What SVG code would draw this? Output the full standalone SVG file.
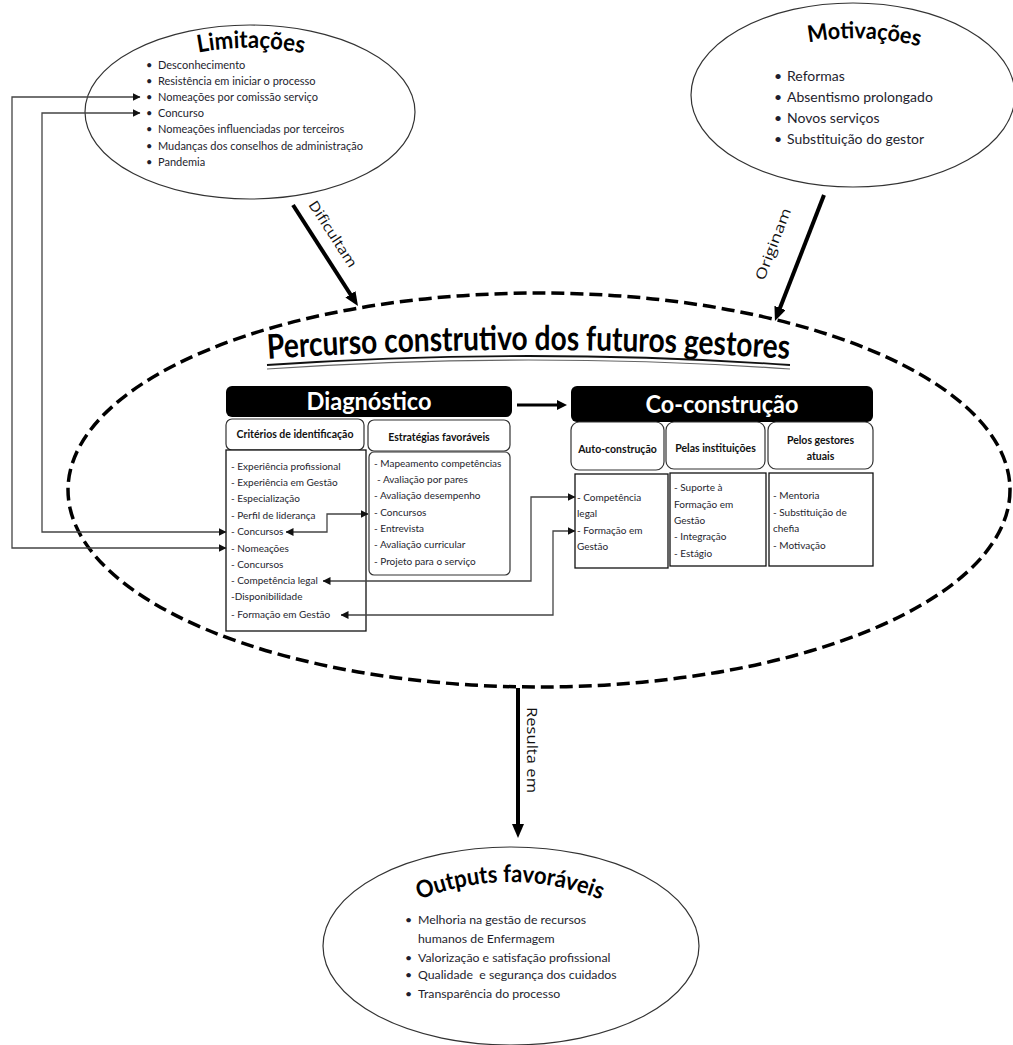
<svg xmlns="http://www.w3.org/2000/svg" width="1013" height="1045" viewBox="0 0 1013 1045">
  <style>
    .oval{fill:#fff;stroke:#333;stroke-width:1.2}
    .frame{fill:none;stroke:#000;stroke-width:3.5;stroke-dasharray:13 6}
    .hdr{fill:#000}
    .hdr-t{font-family:Lato,"Liberation Sans",sans-serif;font-weight:bold;font-size:24px;fill:#fff;text-anchor:middle}
    .sub{fill:#fff;stroke:#333;stroke-width:1.2}
    .sub-t{font-family:Lato,"Liberation Sans",sans-serif;font-weight:bold;font-size:10.5px;fill:#111;text-anchor:middle}
    .box{fill:#fff;stroke:#111;stroke-width:1.3}
    .li{font-family:Lato,"Liberation Sans",sans-serif;font-size:10px;fill:#1e1e2e}
    .li-lim{font-size:11px}
    .li-mot{font-size:14px}
    .li-out{font-size:12.3px}
    .ttl{font-family:Lato,"Liberation Sans",sans-serif;font-weight:bold;fill:#000}
    .lnk{fill:none;stroke:#444;stroke-width:1.3;marker-start:url(#tip);marker-end:url(#tip)}
    .flow{fill:none;stroke:#000;stroke-width:4;marker-end:url(#big)}
    .lbl{font-family:"Open Sans","Liberation Sans",sans-serif;font-size:14px;fill:#111;text-anchor:middle}
  </style>
  <defs>
    <marker id="tip" viewBox="0 0 8 8" refX="7.5" refY="4" markerWidth="8" markerHeight="8" markerUnits="userSpaceOnUse" orient="auto-start-reverse">
      <path d="M0,0 L8,4 L0,8 z" fill="#111"/>
    </marker>
    <marker id="big" viewBox="0 0 14 12" refX="2" refY="6" markerWidth="14" markerHeight="12" markerUnits="userSpaceOnUse" orient="auto">
      <path d="M0,0 L14,6 L0,12 z" fill="#000"/>
    </marker>
    <marker id="mid" viewBox="0 0 10 10" refX="2" refY="5" markerWidth="10" markerHeight="10" markerUnits="userSpaceOnUse" orient="auto">
      <path d="M0,0 L10,5 L0,10 z" fill="#000"/>
    </marker>
    <path id="arcLim" d="M196,53 Q251,42 306,54"/>
    <path id="arcMot" d="M806,43 Q862,32 922,47"/>
    <path id="arcOut" d="M416,901 Q510,863 604,901"/>
    <path id="arcTitle" d="M267,359 Q528,341 790,359"/>
  </defs>

  <rect width="1013" height="1045" fill="#fff"/>

  <!-- Limitações -->
  <g id="limitacoes">
    <ellipse class="oval" cx="250" cy="112" rx="165" ry="87"/>
    <text class="ttl" font-size="24"><textPath href="#arcLim" startOffset="50%" text-anchor="middle" textLength="106" lengthAdjust="spacingAndGlyphs">Limitações</textPath></text>
    <g class="li li-lim">
      <text x="146" y="68.5">•</text><text x="158" y="68.5">Desconhecimento</text>
      <text x="146" y="84.5">•</text><text x="158" y="84.5">Resistência em iniciar o processo</text>
      <text x="146" y="101">•</text><text x="158" y="101">Nomeações por comissão serviço</text>
      <text x="146" y="117">•</text><text x="158" y="117">Concurso</text>
      <text x="146" y="133">•</text><text x="158" y="133">Nomeações influenciadas por terceiros</text>
      <text x="146" y="149.5">•</text><text x="158" y="149.5">Mudanças dos conselhos de administração</text>
      <text x="146" y="165.5">•</text><text x="158" y="165.5">Pandemia</text>
    </g>
  </g>

  <!-- Motivações -->
  <g id="motivacoes">
    <ellipse class="oval" cx="853" cy="95" rx="162" ry="92"/>
    <text class="ttl" font-size="23"><textPath href="#arcMot" startOffset="50%" text-anchor="middle" textLength="112" lengthAdjust="spacingAndGlyphs">Motivações</textPath></text>
    <g class="li li-mot">
      <text x="774" y="81">•</text><text x="787" y="81">Reformas</text>
      <text x="774" y="102">•</text><text x="787" y="102">Absentismo prolongado</text>
      <text x="774" y="123">•</text><text x="787" y="123">Novos serviços</text>
      <text x="774" y="144">•</text><text x="787" y="144">Substituição do gestor</text>
    </g>
  </g>

  <!-- Percurso construtivo (dashed frame) -->
  <g id="percurso">
    <ellipse class="frame" cx="539" cy="490" rx="471" ry="197"/>
    <text class="ttl" font-size="34"><textPath href="#arcTitle" startOffset="50%" text-anchor="middle" textLength="522" lengthAdjust="spacingAndGlyphs">Percurso construtivo dos futuros gestores</textPath></text>
    <path d="M267,365 Q528,347 790,365" fill="none" stroke="#111" stroke-width="1.8"/>
    <path d="M267,369 Q528,351 790,369" fill="none" stroke="#666" stroke-width="1.2"/>
  </g>

  <!-- Diagnóstico -->
  <g id="diagnostico">
    <rect class="hdr" x="226" y="386" width="286" height="31" rx="6"/>
    <text class="hdr-t" x="369" y="410" textLength="125" lengthAdjust="spacingAndGlyphs">Diagnóstico</text>
  </g>

  <g id="criterios">
    <rect class="sub" x="226" y="419" width="138" height="31" rx="6"/>
    <text class="sub-t" x="295" y="437.5">Critérios de identificação</text>
    <rect class="box" x="226" y="450" width="140" height="181"/>
    <g class="li">
      <text x="231" y="469.5">- Experiência profissional</text>
      <text x="231" y="485.5">- Experiência em Gestão</text>
      <text x="231" y="501.5">- Especialização</text>
      <text x="231" y="518.5">- Perfil de liderança</text>
      <text x="231" y="535">- Concursos</text>
      <text x="231" y="551.5">- Nomeações</text>
      <text x="231" y="567.5">- Concursos</text>
      <text x="231" y="584">- Competência legal</text>
      <text x="231" y="600">-Disponibilidade</text>
      <text x="231" y="618">- Formação em Gestão</text>
    </g>
  </g>

  <g id="estrategias">
    <rect class="sub" x="368" y="420" width="142" height="31" rx="6"/>
    <text class="sub-t" x="439" y="440.5">Estratégias favoráveis</text>
    <rect class="sub" x="369" y="452" width="141" height="123" rx="5"/>
    <g class="li">
      <text x="374" y="466.5">- Mapeamento competências</text>
      <text x="377" y="482.5">- Avaliação por pares</text>
      <text x="374" y="498.5">- Avaliação desempenho</text>
      <text x="374" y="515.5">- Concursos</text>
      <text x="374" y="532">- Entrevista</text>
      <text x="374" y="548">- Avaliação curricular</text>
      <text x="374" y="564.5">- Projeto para o serviço</text>
    </g>
  </g>

  <!-- Co-construção -->
  <g id="coconstrucao">
    <rect class="hdr" x="571" y="386" width="302" height="36" rx="6"/>
    <text class="hdr-t" x="722" y="413" textLength="153" lengthAdjust="spacingAndGlyphs">Co-construção</text>
  </g>

  <g id="autoconstrucao">
    <rect class="sub" x="571" y="422" width="93" height="48" rx="8"/>
    <text class="sub-t" x="617.5" y="452.5">Auto-construção</text>
    <rect class="box" x="575" y="474" width="93" height="94"/>
    <g class="li">
      <text x="577" y="501">- Competência</text>
      <text x="577" y="517">legal</text>
      <text x="577" y="533.5">- Formação em</text>
      <text x="577" y="550">Gestão</text>
    </g>
  </g>

  <g id="instituicoes">
    <rect class="sub" x="666" y="422" width="99" height="47" rx="8"/>
    <text class="sub-t" x="715.5" y="451.5">Pelas instituições</text>
    <rect class="box" x="670" y="473" width="96" height="93"/>
    <g class="li">
      <text x="674" y="491">- Suporte à</text>
      <text x="674" y="507.5">Formação em</text>
      <text x="674" y="523.5">Gestão</text>
      <text x="674" y="540">- Integração</text>
      <text x="674" y="556.5">- Estágio</text>
    </g>
  </g>

  <g id="gestores">
    <rect class="sub" x="768" y="422" width="105" height="47" rx="8"/>
    <text class="sub-t" x="820.5" y="443.5">Pelos gestores</text>
    <text class="sub-t" x="820.5" y="459.5">atuais</text>
    <rect class="box" x="769" y="473" width="104" height="93"/>
    <g class="li">
      <text x="773" y="499">- Mentoria</text>
      <text x="773" y="516">- Substituição de</text>
      <text x="773" y="532">chefia</text>
      <text x="773" y="549">- Motivação</text>
    </g>
  </g>

  <!-- Outputs favoráveis -->
  <g id="outputs">
    <ellipse class="oval" cx="511" cy="946" rx="188" ry="99"/>
    <text class="ttl" font-size="24"><textPath href="#arcOut" startOffset="50%" text-anchor="middle" textLength="186" lengthAdjust="spacingAndGlyphs">Outputs favoráveis</textPath></text>
    <g class="li li-out">
      <text x="405" y="923.5">•</text><text x="418" y="923.5">Melhoria na gestão de recursos</text>
      <text x="418" y="942.5">humanos de Enfermagem</text>
      <text x="405" y="961.5">•</text><text x="418" y="961.5">Valorização e satisfação profissional</text>
      <text x="405" y="978.5">•</text><text x="418" y="978.5" xml:space="preserve">Qualidade  e segurança dos cuidados</text>
      <text x="405" y="997.5">•</text><text x="418" y="997.5">Transparência do processo</text>
    </g>
  </g>

  <!-- Connectors -->
  <g id="connectors">
    <!-- main flow -->
    <line class="flow" x1="293" y1="205" x2="351.5" y2="296"/>
    <line class="flow" x1="824" y1="195" x2="779.3" y2="309.8"/>
    <line class="flow" x1="518" y1="688" x2="518" y2="826"/>
    <line x1="517" y1="405" x2="559" y2="405" stroke="#000" stroke-width="3" marker-end="url(#mid)"/>
    <text class="lbl" transform="translate(333,234) rotate(57)" y="5" textLength="76" lengthAdjust="spacingAndGlyphs">Dificultam</text>
    <text class="lbl" transform="translate(773,244) rotate(-69)" y="5" textLength="76" lengthAdjust="spacingAndGlyphs">Originam</text>
    <text class="lbl" font-family="Liberation Sans" font-size="16" transform="translate(532,750) rotate(90)" y="5" textLength="86" lengthAdjust="spacingAndGlyphs">Resulta em</text>

    <!-- cross links between items -->
    <path class="lnk" d="M140,97 H12 V548 H226"/>
    <path class="lnk" d="M140,113 H42 V532 H226"/>
    <path class="lnk" d="M286,532 H327 V514 H368"/>
    <path class="lnk" d="M323,581 H531 V497 H575"/>
    <path class="lnk" d="M341,615 H553 V531 H575"/>
  </g>
</svg>
